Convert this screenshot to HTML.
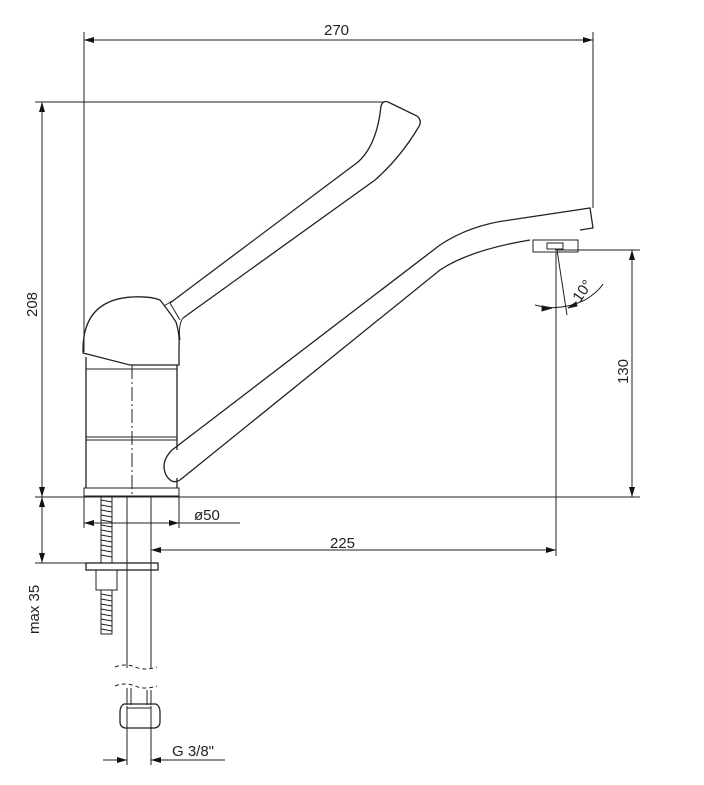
<!DOCTYPE html>
<html><head><meta charset="utf-8"><style>
html,body{margin:0;padding:0;background:#fff;}
svg{display:block}
text{font-family:"Liberation Sans",sans-serif;font-size:15px;fill:#222;}
</style></head><body>
<svg width="704" height="785" viewBox="0 0 704 785" xmlns="http://www.w3.org/2000/svg">
<defs>
<marker id="a" viewBox="0 0 10 6" refX="10" refY="3" markerWidth="10" markerHeight="6" orient="auto-start-reverse" markerUnits="userSpaceOnUse"><path d="M0,0 L10,3 L0,6 z" fill="#111"/></marker>
</defs>
<g stroke="#222" stroke-width="1" fill="none">
<!-- 270 -->
<line x1="84" y1="40" x2="593" y2="40" marker-start="url(#a)" marker-end="url(#a)"/>
<line x1="84" y1="32" x2="84" y2="352"/>
<line x1="593" y1="32" x2="593" y2="208"/>
<!-- 208 -->
<line x1="35" y1="102" x2="383" y2="102"/>
<line x1="42" y1="102" x2="42" y2="497" marker-start="url(#a)" marker-end="url(#a)"/>
<line x1="35" y1="497" x2="640" y2="497"/>
<!-- max 35 -->
<line x1="42" y1="497" x2="42" y2="563" marker-start="url(#a)" marker-end="url(#a)"/>
<line x1="35" y1="563" x2="86" y2="563"/>
<!-- 130 -->
<line x1="555" y1="250" x2="640" y2="250"/>
<line x1="632" y1="250" x2="632" y2="497" marker-start="url(#a)" marker-end="url(#a)"/>
<!-- 225 -->
<line x1="556" y1="252" x2="556" y2="556"/>
<line x1="151" y1="550" x2="556" y2="550" marker-start="url(#a)" marker-end="url(#a)"/>
<!-- ø50 -->
<line x1="84" y1="497" x2="84" y2="528"/>
<line x1="179" y1="497" x2="179" y2="528"/>
<line x1="84" y1="523" x2="179" y2="523" marker-start="url(#a)" marker-end="url(#a)"/>
<line x1="179" y1="523" x2="240" y2="523"/>
<!-- G 3/8 -->
<line x1="127" y1="728" x2="127" y2="765"/>
<line x1="151" y1="728" x2="151" y2="765"/>
<line x1="103" y1="760" x2="127" y2="760" marker-end="url(#a)"/>
<line x1="151" y1="760" x2="225" y2="760"/>
<path d="M175,760 L151,760" marker-end="url(#a)"/>
<!-- handle -->
<path d="M170,303 L358,162 Q377,145 381,106 Q383,100 388,102 L417,116 Q423,121 418,128 Q400,158 375,180 L183,318" stroke-width="1.3"/>
<path d="M170,303 L180,320 M164,306 L172,301 M183,318 Q178,325 180,340"/>
<!-- dome -->
<path d="M83,352 Q82,300 132,297 Q150,296 160,300 Q168,310 176,322 Q180,335 179,347 L179,365 L130,365 L83,353 z" stroke-width="1.3"/>
<!-- body -->
<path d="M86,357 L86,488 M177,365 L177,450 M177,478 L177,488" stroke-width="1.3"/>
<line x1="86" y1="369" x2="177" y2="369"/>
<line x1="86" y1="437" x2="177" y2="437"/>
<line x1="86" y1="440" x2="177" y2="440"/>
<rect x="84" y="488" width="95" height="8"/>
<line x1="132" y1="365" x2="132" y2="497" stroke-dasharray="14,3,2,3"/>
<!-- spout -->
<path d="M172,450 L440,245 Q470,225 510,220 L590,208 L593,228 L580,230" stroke-width="1.3"/>
<path d="M180,480 L440,270 Q470,250 530,240" stroke-width="1.3"/>
<path d="M172,450 Q160,462 166,475 Q172,485 180,480" stroke-width="1.3"/>
<rect x="533" y="240" width="45" height="12"/>
<rect x="547" y="243" width="16" height="6"/>
<!-- 10 degree -->
<line x1="557" y1="250" x2="567" y2="315"/>
<path d="M535,305 Q560,312 585,300 Q598,292 603,284"/>
<path d="M542,306 L552,308 L542,311 z" fill="#111"/>
<path d="M577,306 L568,308 L576,302 z" fill="#111"/>
<!-- rod/shank -->
<path d="M101,497 L101,563 M112,497 L112,563"/>
<path d="M101,500 L112,502 M101,505 L112,507 M101,510 L112,512 M101,515 L112,517 M101,520 L112,522 M101,525 L112,527 M101,530 L112,532 M101,535 L112,537 M101,540 L112,542 M101,545 L112,547 M101,550 L112,552 M101,555 L112,557" />
<path d="M101,590 L101,634 L112,634 L112,590"/>
<path d="M101,594 L112,596 M101,599 L112,601 M101,604 L112,606 M101,609 L112,611 M101,614 L112,616 M101,619 L112,621 M101,624 L112,626 M101,629 L112,631"/>
<rect x="86" y="563" width="72" height="7" stroke-width="1.3"/>
<rect x="96" y="570" width="21" height="20"/>
<line x1="127" y1="497" x2="127" y2="668"/>
<line x1="151" y1="497" x2="151" y2="668"/>
<path d="M115,667 q10,-4 20,0 q10,4 22,0" stroke-dasharray="4,3"/>
<path d="M115,686 q10,-4 20,0 q10,4 22,0" stroke-dasharray="4,3"/>
<path d="M127,688 L127,705 M131,688 L131,705 M147,690 L147,705 M151,690 L151,705"/>
<path d="M124,704 L156,704 Q160,706 160,712 L160,722 Q160,727 155,728 L125,728 Q120,727 120,722 L120,712 Q120,706 124,704 z" stroke-width="1.3"/>
<path d="M127,706 L127,728 M151,706 L151,728 M127,708 L151,708"/>
</g>
<text x="324" y="35">270</text>
<text x="330" y="548">225</text>
<text x="194" y="520">ø50</text>
<text x="172" y="756">G 3/8"</text>
<text transform="translate(37,317) rotate(-90)">208</text>
<text transform="translate(628,384) rotate(-90)">130</text>
<text transform="translate(39,634) rotate(-90)">max 35</text>
<text transform="translate(580,303) rotate(-55)">10°</text>
</svg>
</body></html>
